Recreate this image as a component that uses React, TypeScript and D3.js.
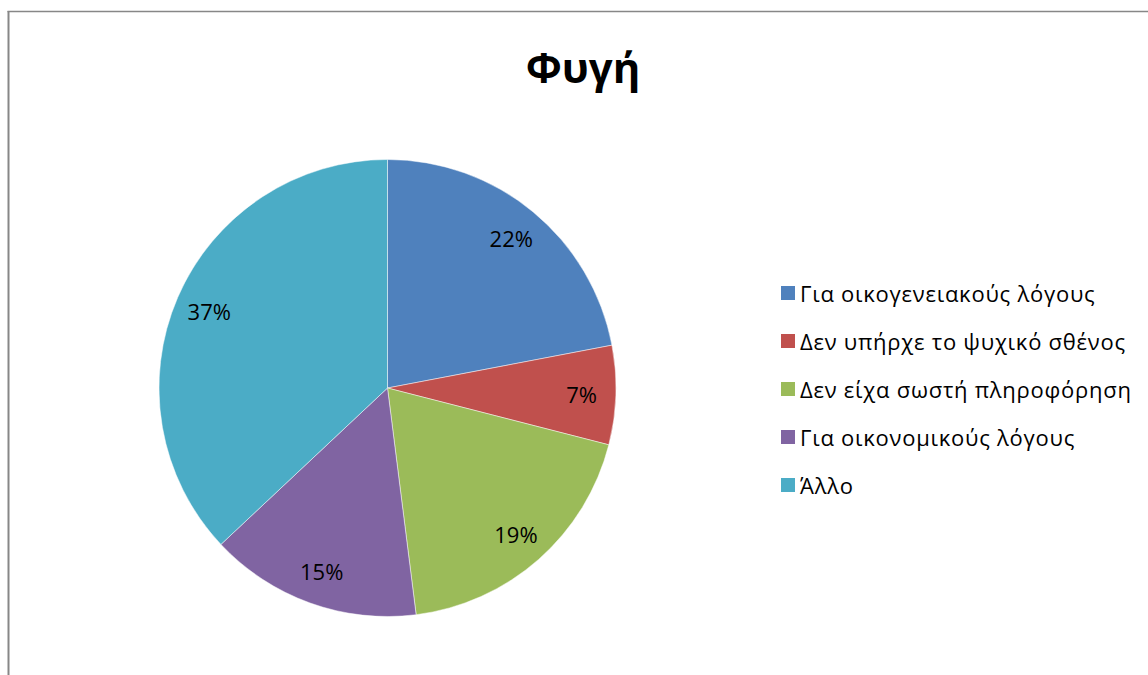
import React from "react";
import * as d3 from "d3";

const categories = [
  "Για οικογενειακούς λόγους",
  "Δεν υπήρχε το ψυχικό σθένος",
  "Δεν είχα σωστή πληροφόρηση",
  "Για οικονομικούς λόγους",
  "Άλλο",
];
const values = [22, 7, 19, 15, 37];
const colors = ["#4F81BD", "#C0504D", "#9BBB59", "#8064A2", "#4BACC6"];
const title = "Φυγή";

const W = 1148;
const H = 675;
const cx = 387.5;
const cy = 388;
const R = 228.5;
const FONT = "'Open Sans', 'Noto Sans', 'DejaVu Sans', sans-serif";

export default function App() {
  const pie = d3.pie<number>().sort(null).value((d) => d)(values);
  const arc = d3.arc<d3.PieArcDatum<number>>().innerRadius(0).outerRadius(R);
  const labelR = R * 0.85;
  const total = d3.sum(values);
  const legendY = d3.scaleLinear().domain([0, categories.length - 1]).range([293, 485]);

  return (
    <svg
      width={W}
      height={H}
      viewBox={`0 0 ${W} ${H}`}
      style={{ position: "absolute", left: 0, top: 0, background: "#fff" }}
    >
      <rect x={0} y={0} width={W} height={H} fill="#fff" />
      <line x1={7.5} y1={11.5} x2={W} y2={11.5} stroke="#878787" strokeWidth={1.5} />
      <line x1={8.5} y1={11} x2={8.5} y2={H} stroke="#878787" strokeWidth={2} />
      <text
        x={583}
        y={83}
        textAnchor="middle"
        fontFamily={FONT}
        fontWeight="bold"
        fontSize={42}
        fill="#000"
      >
        {title}
      </text>
      <g transform={`translate(${cx},${cy})`}>
        {pie.map((p, i) => (
          <path key={i} d={arc(p) || ""} fill={colors[i]} stroke="#ffffff" strokeOpacity={0.6} strokeWidth={0.8} />
        ))}
        {pie.map((p, i) => {
          const a = (p.startAngle + p.endAngle) / 2;
          const x = labelR * Math.sin(a);
          const y = -labelR * Math.cos(a);
          return (
            <text
              key={i}
              x={x}
              y={y}
              textAnchor="middle"
              dominantBaseline="central"
              fontFamily={FONT}
              fontSize={22}
              fill="#000"
            >
              {`${Math.round((values[i] / total) * 100)}%`}
            </text>
          );
        })}
      </g>
      {categories.map((c, i) => (
        <g key={i} transform={`translate(781,${legendY(i)})`}>
          <rect x={0} y={-7} width={14} height={14} fill={colors[i]} />
          <text
            x={19}
            y={0}
            dominantBaseline="central"
            fontFamily={FONT}
            fontSize={22}
            letterSpacing={0.75}
            fill="#000"
          >
            {c}
          </text>
        </g>
      ))}
    </svg>
  );
}
